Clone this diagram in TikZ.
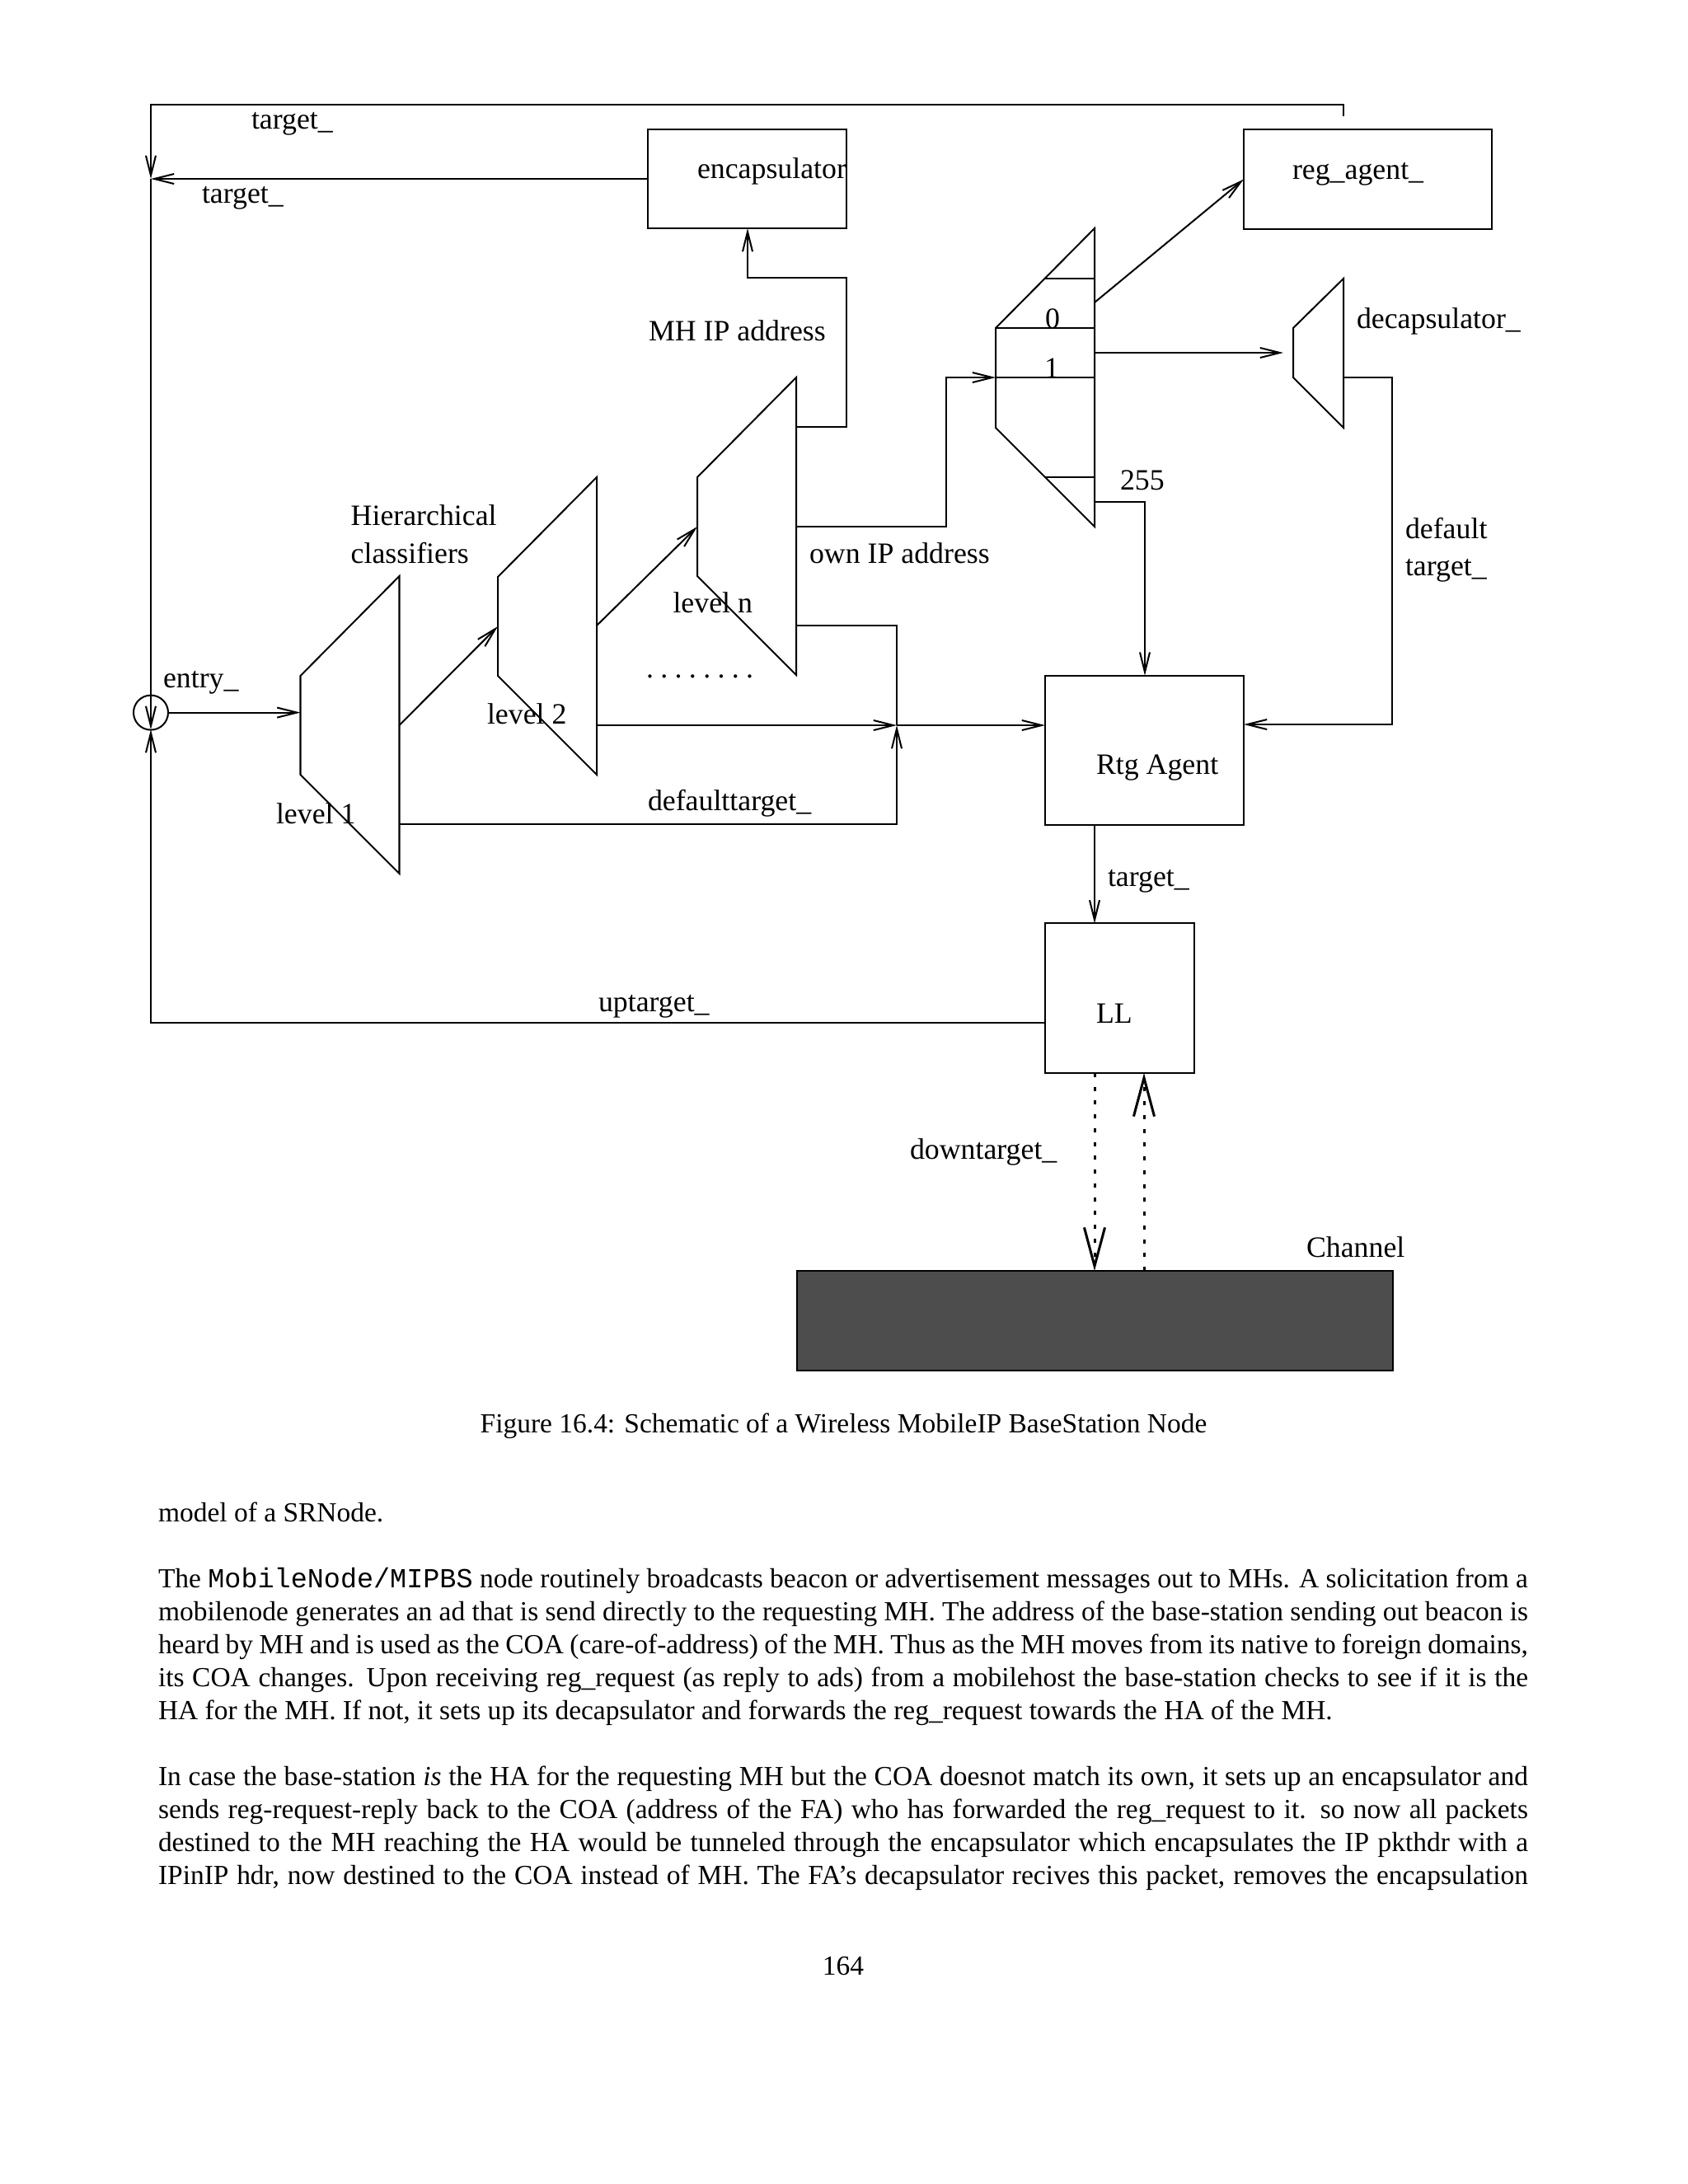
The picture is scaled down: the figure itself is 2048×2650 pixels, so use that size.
\documentclass[tikz,border=0pt]{standalone}
\usepackage{fontspec}
\setmainfont{Liberation Serif}
\setmonofont{Liberation Mono}
\usetikzlibrary{arrows.meta,calc}
\newcommand\figfont{\fontsize{10.7}{12.8}\selectfont}
\newcommand\pxu{0.2988pt}
\newcommand\dotgap{.\hspace{2.5pt}}
\begin{document}
\begin{tikzpicture}[x=0.2988pt,y=-0.2988pt,line width=0.6pt,
  arr/.style={-{Straight Barb[length=7.2pt,width=3.6pt]}},
  bigarr/.style={-{Straight Barb[length=14pt,width=7.5pt,line width=0.9pt]}},
  dotline/.style={line width=0.9pt,dash pattern=on 1.5pt off 3.5pt},
  lbl/.style={anchor=base west,inner sep=0,outer sep=0,font=\figfont},
  box/.style={draw,rectangle,inner sep=0,outer sep=0},
  bodyline/.style={anchor=base west,inner sep=0,outer sep=0,font=\fontsize{10}{12}\selectfont},
]
\useasboundingbox (0,0) rectangle (2048,2650);

% ---------- boxes ----------
\node[box,minimum width=241*\pxu,minimum height=120*\pxu] (enc) at (906.5,217) {};
\node[box,minimum width=301*\pxu,minimum height=121*\pxu] (reg) at (1659.5,217.5) {};
\node[box,minimum width=241*\pxu,minimum height=181*\pxu] (rtg) at (1388.5,910.2) {};
\node[box,minimum width=181*\pxu,minimum height=181.5*\pxu] (ll) at (1358.5,1211.2) {};
\node[box,fill={rgb,255:red,77;green,77;blue,77},minimum width=723*\pxu,minimum height=121*\pxu] (chan) at (1328.5,1602.5) {};
\node[draw,circle,minimum size=42*\pxu,inner sep=0,outer sep=0] (entry) at (183,864.6) {};

% ---------- classifiers ----------
\draw (364.5,820) -- (484.5,699) -- (484.5,1060) -- (364.5,940) -- cycle;
\draw (604,700) -- (724,579) -- (724,940) -- (604,820) -- cycle;
\draw (846,579) -- (966,458) -- (966,819) -- (846,699) -- cycle;
% demux
\draw (1208,398) -- (1328,277) -- (1328,639) -- (1208,519) -- cycle;
\draw (1268,338) -- (1328,338);
\draw (1208,398) -- (1328,398);
\draw (1208,458) -- (1328,458);
\draw (1268,579) -- (1328,579);
% decapsulator
\draw (1569,398) -- (1630,338) -- (1630,519) -- (1569,458) -- cycle;

% ---------- named coordinates ----------
\coordinate (topstart) at (1630,141);
\coordinate (lefttop) at (183,126.7);
\coordinate (merge) at (183,217);
\coordinate (circbot) at (183,885);
\coordinate (l1in) at (364.5,864.6);
\coordinate (l1out) at (484.5,880);
\coordinate (l1def) at (484.5,1000);
\coordinate (l2in) at (604,760);
\coordinate (l2out) at (724,759);
\coordinate (l2def) at (724,880);
\coordinate (lnin) at (846,639);
\coordinate (lnmh) at (966,517.7);
\coordinate (lnown) at (966,639);
\coordinate (lndef) at (966,759.4);
\coordinate (junc) at (1088,880);
\coordinate (dmin) at (1208,458);
\coordinate (dm0) at (1328,367);
\coordinate (dm1) at (1328,428);
\coordinate (dm255) at (1328,609);
\coordinate (decin) at (1557,428);
\coordinate (decout) at (1630,458);

% ---------- connectors ----------
\draw[arr] (topstart) |- (lefttop) -- (merge);
\draw[arr] (enc.west) -- (merge);
\draw[arr] (merge) -- (circbot);
\draw[arr] (ll.west |- 0,1241) -| (circbot);
\draw[arr] (entry.east) -- (l1in);
\draw[arr] (l1out) -- (l2in);
\draw[arr] (l2out) -- (lnin);
\draw[arr] (lnmh) -| (1027,337.3) -| (907,277);
\draw[arr] (lnown) -| (1147.5,458) -- (dmin);
\draw (lndef) -| (junc);
\draw[arr] (l2def) -- (junc);
\draw[arr] (junc) -- (rtg.west |- junc);
\draw[arr] (l1def) -| (junc);
\draw[arr] (dm0) -- (reg.west);
\draw[arr] (dm1) -- (decin);
\draw[arr] (decout) -| (1689,879) -- (rtg.east |- 0,879);
\draw[arr] (dm255) -| (rtg.north -| 1389,0);
\draw[arr] ($(rtg.south west)+(60,0)$) -- ($(ll.north west)+(60,0)$);
\draw[dotline,bigarr] ($(ll.south west)+(60,0)$) -- ($(chan.north west)+(361,0)$);
\draw[dotline,bigarr] ($(chan.north west)+(421,0)$) -- ($(ll.south west)+(120,0)$);

% ---------- figure labels ----------
\node[lbl] (t1) at (305,156.7) {target\_};
\node[lbl] (t2) at (245,246.7) {target\_};
\node[lbl] (enct) at (846,216.7) {encapsulator};
\node[lbl] (regt) at (1568,217) {reg\_agent\_};
\node[lbl] (mhip) at (787,413) {MH IP address};
\node[lbl] (dect) at (1646,398.5) {decapsulator\_};
\node[lbl] (s0) at (1268,398) {0};
\node[lbl] (s1) at (1267,458) {1};
\node[lbl] (s255) at (1359,594) {255};
\node[lbl] (hier) at (425.7,637.7) {Hierarchical};
\node[lbl] (cls) at (425.7,683) {classifiers};
\node[lbl] (ownip) at (982,683) {own IP address};
\node[lbl] (dft1) at (1705,653) {default};
\node[lbl] (dft2) at (1705,698) {target\_};
\node[lbl] (lvn) at (816.5,743) {level n};
\node[lbl] (lv2) at (591,878) {level 2};
\node[lbl] (lv1) at (335,999) {level 1};
\node[lbl] (entt) at (198,834) {entry\_};
\node[lbl] (dots) at (784,822) {\dotgap\dotgap\dotgap\dotgap\dotgap\dotgap\dotgap.};
\node[lbl] (dfltt) at (786,983) {defaulttarget\_};
\node[lbl] (rtgt) at (1330,939) {Rtg Agent};
\node[lbl] (tg3) at (1344,1075) {target\_};
\node[lbl] (llt) at (1330,1241) {LL};
\node[lbl] (upt) at (726,1227) {uptarget\_};
\node[lbl] (dnt) at (1104,1406) {downtarget\_};
\node[lbl] (chant) at (1585,1525) {Channel};

% ---------- caption and body ----------
\node[bodyline,anchor=base] (cap) at (1023.5,1738.5) {Figure 16.4: Schematic of a Wireless MobileIP BaseStation Node};
\node[bodyline] (p1) at (192,1846.7) {model of a SRNode.};
\node[bodyline] (p2a) at (192,1926.7) {\hbox to 496.6pt{The \texttt{MobileNode/MIPBS} node routinely broadcasts beacon or advertisement messages out to MHs.  A solicitation from a}};
\node[bodyline] (p2b) at (192,1966.7) {\hbox to 496.6pt{mobilenode generates an ad that is send directly to the requesting MH. The address of the base-station sending out beacon is}};
\node[bodyline] (p2c) at (192,2006.7) {\hbox to 496.6pt{heard by MH and is used as the COA (care-of-address) of the MH. Thus as the MH moves from its native to foreign domains,}};
\node[bodyline] (p2d) at (192,2046.7) {\hbox to 496.6pt{its COA changes.  Upon receiving reg\_request (as reply to ads) from a mobilehost the base-station checks to see if it is the}};
\node[bodyline] (p2e) at (192,2086.7) {HA for the MH. If not, it sets up its decapsulator and forwards the reg\_request towards the HA of the MH.};
\node[bodyline] (p3a) at (192,2166.7) {\hbox to 496.6pt{In case the base-station \emph{is} the HA for the requesting MH but the COA doesnot match its own, it sets up an encapsulator and}};
\node[bodyline] (p3b) at (192,2206.7) {\hbox to 496.6pt{sends reg-request-reply back to the COA (address of the FA) who has forwarded the reg\_request to it.  so now all packets}};
\node[bodyline] (p3c) at (192,2246.7) {\hbox to 496.6pt{destined to the MH reaching the HA would be tunneled through the encapsulator which encapsulates the IP pkthdr with a}};
\node[bodyline] (p3d) at (192,2286.7) {\hbox to 496.6pt{IPinIP hdr, now destined to the COA instead of MH. The FA's decapsulator recives this packet, removes the encapsulation}};
\node[bodyline,anchor=base] (pg) at (1023,2396.7) {164};
\end{tikzpicture}
\end{document}
